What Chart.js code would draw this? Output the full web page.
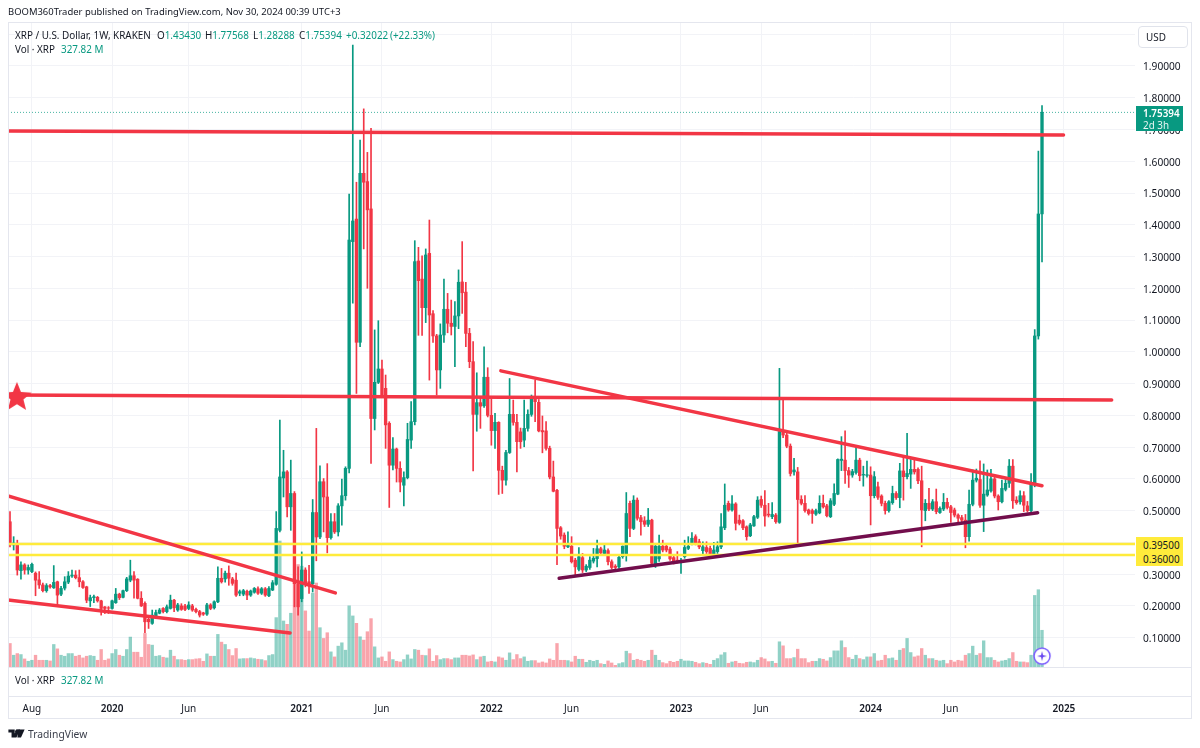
<!DOCTYPE html>
<html><head><meta charset="utf-8">
<script src="https://cdn.jsdelivr.net/npm/chart.js@4"></script>
<style>
html,body{margin:0;padding:0;background:#fff;width:1200px;height:748px;overflow:hidden}
body{font-family:"Noto Sans",sans-serif;color:#131722;position:relative}
canvas{position:absolute;left:0;top:0}
.t{position:absolute;white-space:pre;font-size:9.9px;line-height:14px}
.g{color:#089981}
.ln{position:absolute;background:#e4e6ee}
.box{position:absolute;box-sizing:border-box}
</style></head><body>
<canvas id="c" width="1200" height="748"></canvas>
<div class="ln" style="left:8px;top:22px;width:1184px;height:1px"></div>
<div class="ln" style="left:8px;top:22px;width:1px;height:697px"></div>
<div class="ln" style="left:1191px;top:22px;width:1px;height:697px"></div>
<div class="ln" style="left:8px;top:667px;width:1184px;height:1px"></div>
<div class="ln" style="left:8px;top:696px;width:1184px;height:1px"></div>
<div class="ln" style="left:8px;top:718px;width:1184px;height:1px"></div>
<div class="t" style="left:8px;top:5px;font-size:9.45px">BOOM360Trader published on TradingView.com, Nov 30, 2024 00:39 UTC+3</div>
<div class="t" style="left:15px;top:28px">XRP / U.S. Dollar, 1W, KRAKEN</div>
<div class="t" style="left:157px;top:28px">O<span class="g">1.43430</span></div>
<div class="t" style="left:205px;top:28px">H<span class="g">1.77568</span></div>
<div class="t" style="left:253px;top:28px">L<span class="g">1.28288</span></div>
<div class="t" style="left:299px;top:28px">C<span class="g">1.75394</span></div>
<div class="t g" style="left:346px;top:28px">+0.32022</div>
<div class="t g" style="left:390px;top:28px">(+22.33%)</div>
<div class="t" style="left:15px;top:42px">Vol · XRP</div>
<div class="t g" style="left:61px;top:42px">327.82 M</div>
<div class="t" style="left:15px;top:673px">Vol · XRP</div>
<div class="t g" style="left:61px;top:673px">327.82 M</div>
<div class="box" style="left:1138px;top:26px;width:50px;height:22px;border:1px solid #e0e3eb;border-radius:4px"></div>
<div class="t" style="left:1146px;top:30px">USD</div>
<div class="box" style="left:1136px;top:106px;width:47px;height:25px;background:#089981"></div>
<div class="t" style="left:1143px;top:106px;color:#fff;font-weight:600">1.75394</div>
<div class="t" style="left:1143px;top:118px;color:#e6f5f2">2d 3h</div>
<div class="box" style="left:1136px;top:537px;width:47px;height:29px;background:#ffeb3b"></div>
<div class="t" style="left:1143px;top:538px">0.39500</div>
<div class="t" style="left:1143px;top:552px">0.36000</div>
<svg style="position:absolute;left:8px;top:729px" width="17" height="9" viewBox="0 0 36 20"><path fill="#131722" d="M0 1h14v18H7V8H0zM26 1l-8 18h-8L18 1z"/><circle cx="19" cy="5" r="4" fill="#131722"/><path fill="#131722" d="M22 1h14l-8 18h-8z"/></svg>
<div class="t" style="left:28px;top:726px;font-size:10.3px;line-height:16px;color:#3a3e4a">TradingView</div>
<script>
// weekly OHLC values
const opens=[.465,.392,.395,.311,.329,.313,.308,.303,.282,.266,
.248,.264,.257,.276,.237,.256,.275,.294,.297,.289,
.276,.26,.216,.226,.227,.216,.197,.194,.192,.21,
.237,.227,.248,.281,.295,.284,.224,.208,.158,.145,
.166,.177,.192,.182,.192,.218,.187,.2,.2,.192,
.2,.189,.182,.178,.174,.203,.194,.213,.287,.285,
.303,.285,.281,.24,.237,.246,.234,.243,.254,.24,
.254,.232,.25,.268,.438,.603,.622,.512,.554,.27,
.223,.313,.276,.27,.494,.417,.591,.543,.415,.465,
.433,.515,.547,.633,1.347,1.418,1.03,1.562,1.536,1.45,
.79,.904,.946,.885,.775,.643,.694,.633,.58,.604,
.722,.78,1.286,1.229,1.139,1.31,1.12,1.05,.943,1.053,
1.134,1.09,1.08,1.113,1.22,1.188,1.058,.969,.803,.84,
.83,.92,.80,.752,.778,.627,.596,.683,.803,.778,
.748,.722,.759,.803,.859,.841,.752,.751,.696,.606,
.564,.446,.423,.386,.388,.344,.315,.352,.313,.321,
.341,.349,.38,.365,.374,.339,.325,.323,.355,.36,
.523,.444,.533,.478,.468,.457,.47,.332,.348,.388,
.388,.379,.352,.344,.341,.355,.381,.397,.418,.402,
.374,.384,.381,.363,.371,.386,.446,.523,.502,.521,
.47,.468,.449,.421,.452,.479,.535,.517,.489,.481,
.486,.463,.749,.738,.703,.622,.622,.535,.523,.502,
.5,.489,.493,.523,.515,.481,.52,.552,.658,.659,
.626,.612,.62,.659,.612,.611,.612,.547,.575,.546,
.523,.5,.525,.554,.541,.625,.607,.615,.63,.63,
.594,.5,.523,.505,.528,.494,.505,.526,.512,.502,
.486,.478,.47,.418,.52,.596,.598,.517,.549,.562,
.6,.546,.528,.567,.586,.64,.533,.528,.547,.515,
.5,.584,1.05,1.4343];
const highs=[.497,.418,.407,.339,.333,.329,.335,.307,.308,.272,
.27,.268,.327,.278,.262,.292,.308,.313,.311,.313,
.28,.262,.234,.234,.23,.218,.198,.198,.218,.255,
.24,.25,.29,.344,.308,.286,.245,.213,.162,.187,
.187,.192,.195,.203,.234,.221,.208,.207,.205,.213,
.205,.193,.186,.18,.208,.207,.216,.323,.318,.31,
.326,.29,.303,.25,.252,.25,.25,.258,.26,.258,
.258,.261,.28,.497,.785,.69,.626,.659,.56,.323,
.37,.32,.328,.535,.759,.641,.601,.648,.491,.491,
.522,.599,.638,1.497,1.966,1.534,1.667,1.765,1.628,1.704,
1.069,1.098,.974,.927,.78,.73,.697,.654,.622,.775,
.843,1.35,1.329,1.302,1.324,1.415,1.13,1.055,1.088,1.229,
1.184,1.163,1.158,1.258,1.347,1.219,1.074,1.032,.934,.858,
1.016,.95,.853,.806,.78,.64,.69,.916,.848,.803,
.76,.848,.817,.864,.911,.85,.798,.78,.703,.656,
.567,.45,.43,.433,.418,.35,.384,.365,.33,.355,
.381,.407,.385,.392,.38,.345,.33,.358,.389,.557,
.53,.547,.54,.485,.481,.507,.473,.392,.423,.407,
.395,.385,.358,.371,.35,.407,.418,.431,.424,.41,
.402,.402,.388,.4,.402,.491,.584,.53,.547,.525,
.486,.472,.452,.46,.485,.544,.546,.563,.523,.525,
.491,.948,.85,.745,.71,.665,.636,.547,.547,.505,
.505,.505,.547,.549,.52,.538,.584,.663,.733,.751,
.636,.63,.699,.665,.64,.656,.638,.623,.59,.55,
.53,.532,.577,.56,.649,.672,.743,.661,.659,.635,
.64,.535,.57,.535,.568,.512,.554,.539,.517,.508,
.49,.485,.488,.565,.628,.631,.657,.647,.628,.63,
.605,.55,.596,.598,.661,.661,.544,.562,.56,.529,
.617,1.07,1.632,1.77568];
const lows=[.386,.376,.297,.284,.30,.30,.305,.232,.255,.244,
.243,.256,.255,.203,.232,.25,.27,.29,.285,.26,
.255,.21,.198,.21,.212,.171,.176,.176,.19,.208,
.22,.225,.245,.276,.224,.222,.198,.116,.129,.142,
.16,.175,.178,.178,.19,.182,.183,.186,.185,.188,
.183,.178,.165,.17,.17,.188,.19,.21,.272,.275,
.265,.265,.23,.232,.232,.22,.23,.24,.236,.236,
.23,.229,.248,.265,.433,.543,.48,.438,.197,.171,
.213,.26,.239,.244,.342,.412,.433,.367,.41,.428,
.42,.454,.533,.619,1.153,.869,1.016,1.324,1.2,.649,
.754,.9,.86,.696,.51,.628,.59,.559,.515,.6,
.696,.77,1.052,1.052,1.092,.911,1.03,.864,.885,1.03,
1.06,1.053,.953,1.073,1.121,1.016,.95,.625,.75,.759,
.825,.795,.706,.696,.551,.554,.58,.68,.769,.622,
.696,.701,.75,.797,.78,.748,.682,.69,.60,.559,
.33,.41,.38,.383,.335,.297,.31,.305,.308,.315,
.335,.323,.36,.36,.329,.316,.315,.318,.35,.341,
.418,.44,.47,.423,.45,.45,.331,.321,.34,.37,
.37,.343,.332,.335,.302,.35,.377,.392,.392,.38,
.36,.365,.358,.36,.365,.38,.44,.498,.498,.439,
.455,.44,.407,.418,.45,.475,.51,.451,.48,.475,
.46,.46,.73,.698,.609,.612,.397,.518,.495,.486,
.46,.485,.49,.508,.48,.478,.516,.55,.626,.586,
.573,.605,.615,.594,.577,.605,.455,.54,.535,.515,
.489,.495,.52,.535,.509,.533,.6,.57,.615,.585,
.386,.468,.5,.5,.49,.491,.5,.505,.463,.48,
.465,.465,.383,.404,.515,.59,.51,.434,.545,.558,
.54,.502,.524,.562,.573,.507,.52,.52,.497,.495,
.495,.575,1.04,1.28288];
const closes=[.392,.398,.313,.329,.313,.321,.331,.281,.266,.248,
.264,.26,.274,.234,.255,.276,.294,.297,.289,.276,
.258,.218,.226,.229,.216,.192,.192,.193,.216,.237,
.226,.248,.285,.295,.281,.224,.2,.15,.15,.171,
.179,.187,.182,.197,.218,.194,.203,.189,.189,.203,
.187,.182,.171,.174,.203,.192,.213,.287,.276,.303,
.287,.271,.234,.245,.248,.234,.247,.255,.24,.254,
.234,.255,.273,.444,.606,.622,.512,.554,.27,.197,
.313,.27,.27,.494,.417,.591,.543,.415,.465,.433,
.515,.547,.633,1.352,1.412,1.03,1.562,1.534,1.447,.79,
.904,.946,.864,.77,.643,.694,.633,.59,.604,.724,
.78,1.284,1.224,1.139,1.305,1.116,1.05,.943,1.053,1.134,
1.09,1.08,1.113,1.219,1.186,1.058,.969,.803,.84,.829,
.92,.80,.752,.778,.627,.596,.683,.803,.778,.717,
.717,.759,.803,.859,.843,.751,.748,.696,.606,.561,
.444,.42,.388,.391,.339,.323,.355,.313,.325,.344,
.35,.38,.367,.376,.339,.321,.321,.353,.388,.491,
.444,.533,.476,.465,.457,.47,.334,.388,.388,.376,
.376,.348,.339,.339,.344,.384,.388,.413,.397,.386,
.386,.371,.363,.376,.386,.449,.517,.502,.521,.46,
.46,.446,.418,.455,.481,.533,.517,.483,.486,.488,
.465,.749,.738,.703,.617,.628,.535,.523,.5,.491,
.491,.5,.523,.512,.484,.531,.554,.661,.662,.626,
.612,.623,.659,.61,.614,.613,.547,.607,.542,.523,
.5,.528,.554,.541,.625,.607,.617,.63,.622,.594,
.502,.523,.505,.528,.497,.507,.526,.51,.494,.486,
.476,.47,.418,.52,.596,.602,.517,.552,.565,.6,
.546,.528,.57,.586,.64,.531,.525,.547,.517,.5,
.583,1.05,1.434,1.75394];
// volume per week, millions of XRP
const volumes=[210,105,120,111,72,51,60,105,60,60,
60,54,201,162,105,96,120,120,96,105,
81,96,102,96,60,156,60,72,120,156,
105,96,156,267,132,132,87,300,201,195,
96,102,87,81,150,96,66,66,60,66,
66,72,75,51,117,96,96,291,222,201,
156,102,165,72,75,75,81,75,69,66,
57,102,111,441,1125,411,381,480,756,915,
900,501,321,660,750,351,255,306,135,90,
186,216,150,546,456,390,270,240,315,432,
180,81,90,51,135,66,51,45,66,108,
72,156,150,105,102,162,51,102,66,75,
75,66,81,81,105,105,99,108,66,90,
96,45,51,45,90,81,60,126,66,111,
75,90,51,57,57,36,45,36,72,60,
210,60,60,57,45,96,69,69,42,60,
51,60,30,24,54,36,15,30,39,141,
120,60,69,60,51,60,150,105,60,39,
30,51,42,51,69,54,54,51,42,30,
39,33,24,60,75,108,129,33,45,51,
33,30,42,45,39,60,84,72,48,51,
33,225,189,75,75,84,159,75,75,39,
51,51,75,69,54,84,144,144,234,174,
84,69,105,75,66,90,90,120,54,60,
105,75,81,60,150,165,255,129,90,99,
165,105,75,75,60,54,60,30,60,45,
60,54,105,120,186,105,120,234,84,84,
60,45,54,60,75,129,51,45,45,39,
105,639,690,327.82];
// axis ticks
const timeTickWeeks=[6,28,49,80,102,132,154,184,206,236,258,289];
const timeTickLabels=['Aug','2020','Jun','2021','Jun','2022','Jun','2023','Jun','2024','Jun','2025'];
// drawn lines: [week, price] end points
const lineTop=[[-.55,1.695],[288.9,1.683]];
const lineMid=[[-.55,.864],[302.1,.848]];
const wedgeUpper=[[-.55,.546],[89.2,.241]];
const wedgeLower=[[-.55,.219],[76.8,.115]];
const triangleUpper=[[134.6,.940],[283,.5785]];
const triangleLower=[[150.6,.287],[281.8,.493]];
const levelHigh=.395, levelLow=.36, lastClose=1.75394;
const starMark=[[1.9,.858]], flagMark=[[283,.042]];

const xMin=-.55,xMax=308.5,priceMin=.0045,priceMax=2.0385,volMin=-9,volMax=5760;
const UP='#089981',DOWN='#F23645',UPV='rgba(8,153,129,.45)',DOWNV='rgba(242,54,69,.45)',GRID='#f2f3f7';
const pts=a=>a.map(p=>({x:p[0],y:p[1]}));
const isUp=i=>closes[i]>=opens[i];
function star(){const c=document.createElement('canvas');c.width=c.height=32;const g=c.getContext('2d');g.fillStyle=DOWN;g.beginPath();
 for(let i=0;i<10;i++){const r=i%2?6.8:15.5,a=-Math.PI/2+i*Math.PI/5;g.lineTo(16+r*Math.cos(a),16.5+r*Math.sin(a));}
 g.closePath();g.lineJoin='round';g.fill();return c;}
function flag(){const c=document.createElement('canvas');c.width=c.height=20;const g=c.getContext('2d');
 g.fillStyle='#fff';g.strokeStyle='#7b5cff';g.lineWidth=1.5;g.beginPath();g.arc(10,10,8,0,7);g.fill();g.stroke();
 g.fillStyle='#6a48f0';g.beginPath();[[10,5],[11,9],[15,10],[11,11],[10,15],[9,11],[5,10],[9,9]].forEach(p=>g.lineTo(p[0],p[1]));g.closePath();g.fill();return c;}
const line=(data,color,width,order,extra)=>Object.assign({type:'line',data:pts(data),borderColor:color,borderWidth:width,pointRadius:0,borderCapStyle:'round',order,yAxisID:'y',xAxisID:'x',parsing:false,normalized:true},extra||{});
new Chart(document.getElementById('c'),{
 type:'bar',
 data:{datasets:[
  {data:volumes.map((v,i)=>({x:i,y:v})),yAxisID:'yv',backgroundColor:volumes.map((v,i)=>isUp(i)?UPV:DOWNV),barThickness:2.7,grouped:false,order:9},
  {data:highs.map((h,i)=>({x:i,y:[lows[i],h]})),yAxisID:'y',backgroundColor:highs.map((h,i)=>isUp(i)?UP:DOWN),barThickness:1,grouped:false,order:8},
  {data:opens.map((o,i)=>({x:i,y:[o,closes[i]]})),yAxisID:'y',backgroundColor:opens.map((o,i)=>isUp(i)?UP:DOWN),barThickness:2.7,grouped:false,order:7},
  line([[xMin,lastClose],[xMax,lastClose]],'rgba(8,153,129,.75)',1,6,{borderDash:[1,2],borderCapStyle:'butt'}),
  line([[xMin,levelHigh],[xMax,levelHigh]],'#ffeb3b',2.5,5,{borderCapStyle:'butt'}),
  line([[xMin,levelLow],[xMax,levelLow]],'#ffeb3b',2.5,5,{borderCapStyle:'butt'}),
  line(triangleLower,'#720e4c',3.5,4),
  line(lineTop,'#F23645',3.5,3),
  line(lineMid,'#F23645',3.5,3),
  line(wedgeUpper,'#F23645',3.5,3),
  line(wedgeLower,'#F23645',3.5,3),
  line(triangleUpper,'#F23645',3.5,3),
  line(starMark,'#F23645',0,2,{showLine:false,pointRadius:16,pointStyle:star()}),
  line(flagMark,'#7b5cff',0,1,{showLine:false,pointRadius:10,pointStyle:flag(),clip:false})
 ]},
 options:{responsive:false,animation:false,devicePixelRatio:1,events:[],
  layout:{autoPadding:false,padding:{left:8,top:22,right:9,bottom:29}},
  plugins:{legend:{display:false},tooltip:{enabled:false},title:{display:false}},
  scales:{
   x:{type:'linear',offset:false,min:xMin,max:xMax,position:'bottom',
    grid:{offset:false,color:GRID,drawTicks:false},border:{display:false},
    afterFit:s=>{s.height=51;s.paddingLeft=0;s.paddingRight=0;},
    afterBuildTicks:s=>{s.ticks=timeTickWeeks.map(v=>({value:v}));},
    ticks:{autoSkip:false,maxRotation:0,padding:35,color:'#131722',
     font:c=>({family:'Noto Sans',size:10,weight:c.tick&&/^\d/.test(timeTickLabels[timeTickWeeks.indexOf(c.tick.value)]||'')?'600':'400'}),
     callback:v=>timeTickLabels[timeTickWeeks.indexOf(v)]||''}},
   y:{position:'right',min:priceMin,max:priceMax,
    grid:{color:GRID,drawTicks:false},border:{display:false},
    afterFit:s=>{s.width=56;s.paddingTop=0;s.paddingBottom=0;},
    ticks:{stepSize:.1,includeBounds:false,padding:8,crossAlign:'near',color:'#131722',font:{family:'Noto Sans',size:10.2,lineHeight:'3px'},
     callback:v=>(v>1.95||v<.05)?'':['',Number(v).toFixed(5)]}},
   yv:{display:false,min:volMin,max:volMax,position:'left',grid:{drawTicks:false}}
  }
 }
});
</script>
</body></html>
